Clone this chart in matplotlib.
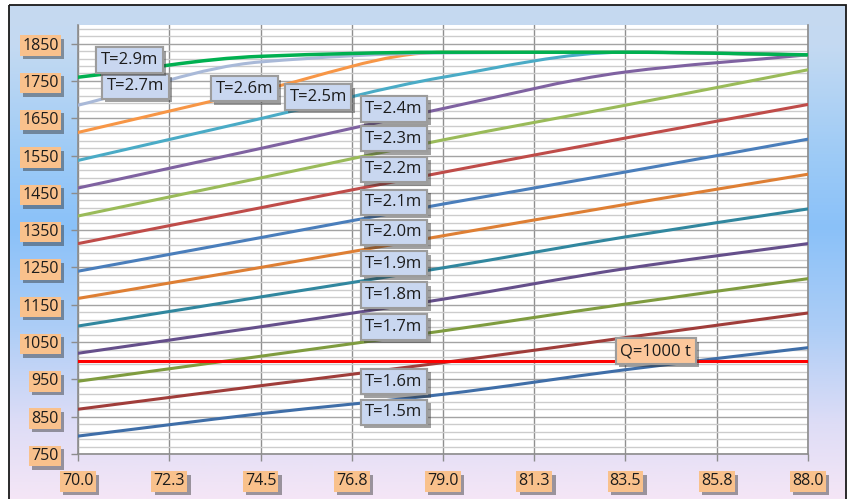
import numpy as np
import matplotlib
matplotlib.use("Agg")
import matplotlib.pyplot as plt
from matplotlib.path import Path
from matplotlib.patches import PathPatch, Rectangle
import matplotlib.patheffects as pe

plt.rcParams['font.family'] = ['Open Sans', 'DejaVu Sans']

# ship length (x) and load capacity for each draft T
ship_length = [70.0, 74.5, 79.0, 83.5, 88.0]
x_ticks = [70.0, 72.25, 74.5, 76.75, 79.0, 81.25, 83.5, 85.75, 88.0]
x_tick_labels = ["70.0", "72.3", "74.5", "76.8", "79.0", "81.3", "83.5", "85.8", "88.0"]
y_ticks = [750, 850, 950, 1050, 1150, 1250, 1350, 1450, 1550, 1650, 1750, 1850]

t_1_5 = [798, 858, 910, 976, 1035]
t_1_6 = [870, 933, 995, 1062, 1128]
t_1_7 = [945, 1012, 1080, 1152, 1220]
t_1_8 = [1020, 1091, 1165, 1247, 1314]
t_1_9 = [1093, 1171, 1249, 1332, 1407]
t_2_0 = [1167, 1250, 1335, 1419, 1500]
t_2_1 = [1240, 1330, 1420, 1506, 1594]
t_2_2 = [1314, 1410, 1505, 1597, 1687]
t_2_3 = [1388, 1490, 1592, 1685, 1780]
t_2_4 = [1463, 1569, 1676, 1774, 1820]
t_2_5 = [1537, 1649, 1760, 1827, 1820]
t_2_6 = [1612, 1725, 1827, 1827, 1820]
t_2_7 = [1685, 1801, 1825, 1827, 1820]
t_2_9 = [1760, 1816, 1827, 1827, 1820]

draft_names = ["T=1.5m", "T=1.6m", "T=1.7m", "T=1.8m", "T=1.9m", "T=2.0m", "T=2.1m",
               "T=2.2m", "T=2.3m", "T=2.4m", "T=2.5m", "T=2.6m", "T=2.7m", "T=2.9m"]
draft_series = [t_1_5, t_1_6, t_1_7, t_1_8, t_1_9, t_2_0, t_2_1,
                t_2_2, t_2_3, t_2_4, t_2_5, t_2_6, t_2_7, t_2_9]

capacity_limit = 1000
capacity_label = "Q=1000 t"

# styling
series_colors = ["#3f6ea8", "#a03d3a", "#7f9c3f", "#654f8b", "#31879f", "#de7f34",
                 "#4a7ebb", "#bf4c49", "#9abb59", "#7f62a1", "#4aabc6", "#f79646",
                 "#a9b9d8", "#00b050"]
label_xy = [(77.79, 862), (77.79, 944), (77.79, 1090), (77.79, 1176), (77.79, 1260),
            (77.79, 1344), (77.79, 1425), (77.79, 1513), (77.79, 1595), (77.79, 1675),
            (75.92, 1707), (74.10, 1729), (71.41, 1736), (71.27, 1806)]
capacity_label_xy = (84.25, 1026)


def smooth_path(xs, ys):
    """Monotone cubic (Fritsch-Carlson) curve through the points as Bezier segments."""
    x = np.asarray(xs, float)
    y = np.asarray(ys, float)
    n = len(x)
    h = np.diff(x)
    d = np.diff(y) / h
    m = np.zeros(n)
    m[0], m[-1] = d[0], d[-1]
    for i in range(1, n - 1):
        if d[i - 1] * d[i] <= 0:
            m[i] = 0.0
        else:
            w1 = 2 * h[i] + h[i - 1]
            w2 = h[i] + 2 * h[i - 1]
            m[i] = (w1 + w2) / (w1 / d[i - 1] + w2 / d[i])
    verts = [(x[0], y[0])]
    codes = [Path.MOVETO]
    for i in range(n - 1):
        dx = h[i] / 3.0
        verts += [(x[i] + dx, y[i] + m[i] * dx),
                  (x[i + 1] - dx, y[i + 1] - m[i + 1] * dx),
                  (x[i + 1], y[i + 1])]
        codes += [Path.CURVE4] * 3
    return Path(verts, codes)


W, H = 850, 499
fig = plt.figure(figsize=(W / 100, H / 100), dpi=100)
fig.patch.set_facecolor("white")

# chart area background with vertical gradient and frame
bg = fig.add_axes([0, 0, 1, 1], zorder=-10)
bg.set_xlim(0, W)
bg.set_ylim(H, 0)
bg.axis("off")
stops = np.array([0.0, 0.08, 0.3, 0.45, 0.65, 0.85, 1.0])
cols = np.array([[198, 217, 240], [196, 218, 242], [158, 203, 246], [138, 193, 249],
                 [172, 205, 246], [222, 221, 246], [245, 230, 246]]) / 255.0
tt = np.linspace(0, 1, 300)
grad = np.stack([np.interp(tt, stops, cols[:, k]) for k in range(3)], axis=1)
bg.imshow(grad[:, None, :], extent=(9, 846, H, 5), aspect="auto", interpolation="bilinear")
bg.add_patch(Rectangle((9, 5), 837, 510, fill=False, edgecolor="#1a1a1a", lw=1.3))

ax = fig.add_axes([78 / W, 1 - 454 / H, 730 / W, 429 / H])
ax.set_facecolor("white")
ax.set_xlim(70, 88)
ax.set_ylim(750, 1900)

ax.set_xticks(x_ticks, labels=x_tick_labels)
ax.set_yticks(y_ticks)
minor_y = [v for v in range(770, 1900, 20) if (v - 750) % 100 != 0]
ax.set_yticks(minor_y, minor=True)
ax.grid(which="major", axis="y", color="#a3a3a3", lw=1.0)
ax.grid(which="minor", axis="y", color="#cccccc", lw=1.0)
ax.grid(which="major", axis="x", color="#8f8f8f", lw=1.0)
ax.set_axisbelow(True)
ax.tick_params(which="minor", length=0)
ax.tick_params(which="major", direction="out", length=5, width=1, color="#8c8c8c",
               labelsize=11.5, labelcolor="#1c1c1c")
ax.tick_params(axis="y", pad=9)
ax.tick_params(axis="x", pad=9)
ax.spines["top"].set_visible(False)
for side in ("left", "bottom", "right"):
    ax.spines[side].set_color("#8c8c8c")
    ax.spines[side].set_linewidth(1.2)

shadow = [pe.withSimplePatchShadow(offset=(2.5, -2.5), shadow_rgbFace="#303030", alpha=0.45),
          pe.Normal()]
for lab in ax.get_xticklabels() + ax.get_yticklabels():
    lab.set_bbox(dict(boxstyle="square,pad=0.14", fc="#f9c18c", ec="none"))
    lab.get_bbox_patch().set_path_effects(shadow)

# draft curves
for ys, c in zip(draft_series[:-1], series_colors[:-1]):
    ax.add_patch(PathPatch(smooth_path(ship_length, ys), fill=False, edgecolor=c,
                           lw=2.2, capstyle="round", joinstyle="round", zorder=3))
ax.axhline(capacity_limit, color="#ff0000", lw=2.2, zorder=3.5)
ax.add_patch(PathPatch(smooth_path(ship_length, draft_series[-1]), fill=False,
                       edgecolor=series_colors[-1], lw=2.5, capstyle="round",
                       joinstyle="round", zorder=4))

# labels
for name, (lx, ly) in zip(draft_names, label_xy):
    t = ax.text(lx, ly, name, ha="center", va="center", fontsize=12, color="#1c1c1c",
                zorder=6, bbox=dict(boxstyle="square,pad=0.28", fc="#c9d7f0",
                                    ec="#9c9c9c", lw=1.5))
    t.get_bbox_patch().set_path_effects(shadow)
t = ax.text(*capacity_label_xy, capacity_label, ha="center", va="center", fontsize=12,
            color="#1c1c1c", zorder=6,
            bbox=dict(boxstyle="square,pad=0.28", fc="#fcc79b", ec="#9c9c9c", lw=1.5))
t.get_bbox_patch().set_path_effects(shadow)

fig.savefig("out.png", dpi=100)
